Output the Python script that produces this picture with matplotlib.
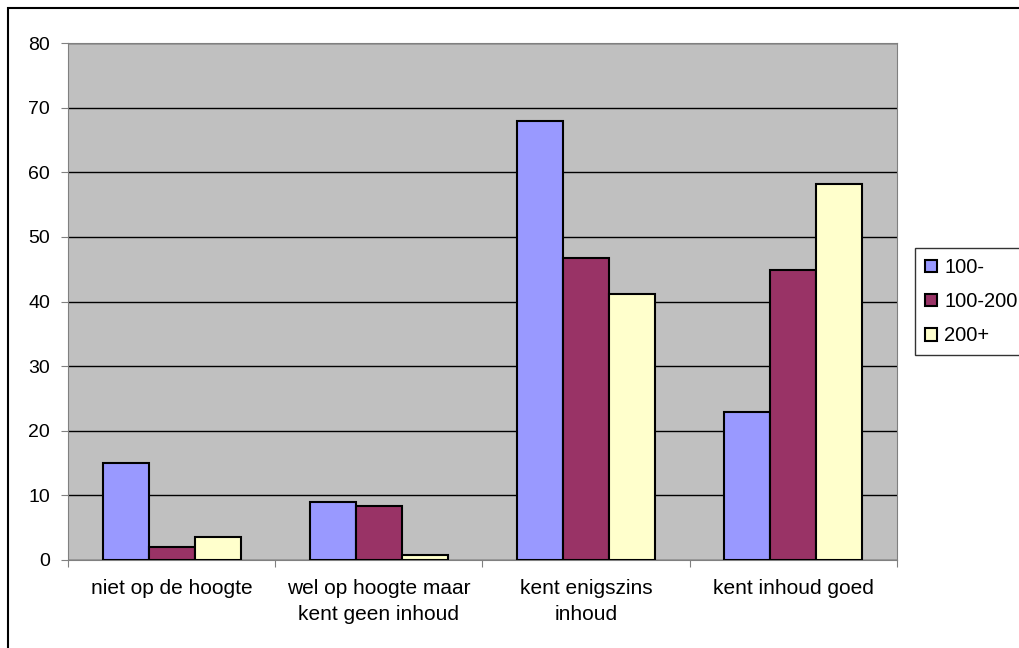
import numpy as np
import matplotlib.pyplot as plt
from matplotlib.patches import Rectangle

plt.rcParams['font.family'] = ['Liberation Sans', 'DejaVu Sans']

categories = ["niet op de hoogte", "wel op hoogte maar\nkent geen inhoud",
              "kent enigszins\ninhoud", "kent inhoud goed"]
series_names = ["100-", "100-200", "200+"]
v_small = [15.0, 9.0, 68.0, 22.9]
v_mid = [2.0, 8.4, 46.7, 44.8]
v_large = [3.5, 0.7, 41.2, 58.2]
colors = ["#9999FF", "#993366", "#FFFFCC"]

fig = plt.figure(figsize=(10.2, 6.48), dpi=100)
ax = fig.add_axes([68/1020, 1-560/648, (897-68)/1020, (560-43)/648])
ax.set_facecolor("#C0C0C0")

x = np.arange(len(categories))
w = 1/4.5
for i, (vals, name) in enumerate(zip([v_small, v_mid, v_large], series_names)):
    ax.bar(x + (i-1)*w, vals, width=w, color=colors[i], edgecolor="black",
           linewidth=1.5, label=name, zorder=3)

ax.set_xlim(-0.5, 3.5)
ax.set_ylim(0, 80)
ax.set_yticks(range(0, 81, 10))
ax.yaxis.grid(True, color="black", linewidth=1, zorder=0)
ax.set_xticks(np.arange(-0.5, 4, 1))
ax.set_xticklabels([])
ax.set_xticks(x, minor=True)
ax.set_xticklabels(categories, minor=True, fontsize=15, linespacing=1.45)
ax.tick_params(axis='x', which='minor', length=0, pad=14)
ax.tick_params(axis='x', which='major', length=5, color="#808080", direction='out')
ax.tick_params(axis='y', length=5, color="#808080", labelsize=14, pad=8)
for s in ["top", "right", "left", "bottom"]:
    ax.spines[s].set_color("#808080")

leg = fig.legend(loc="upper left", bbox_to_anchor=(915/1020, 1-248/648),
                 fontsize=14.5, frameon=True, fancybox=False, edgecolor="black",
                 handlelength=0.6, handleheight=0.6, handletextpad=0.35,
                 borderpad=0.5, labelspacing=0.75, borderaxespad=0)
leg.get_frame().set_linewidth(1)

fig.patches.append(Rectangle((8/1020, -0.01), 1.1, 1-8/648+0.01,
                             transform=fig.transFigure, fill=False,
                             edgecolor="black", linewidth=1.5))

fig.savefig("out.png", dpi=100)
